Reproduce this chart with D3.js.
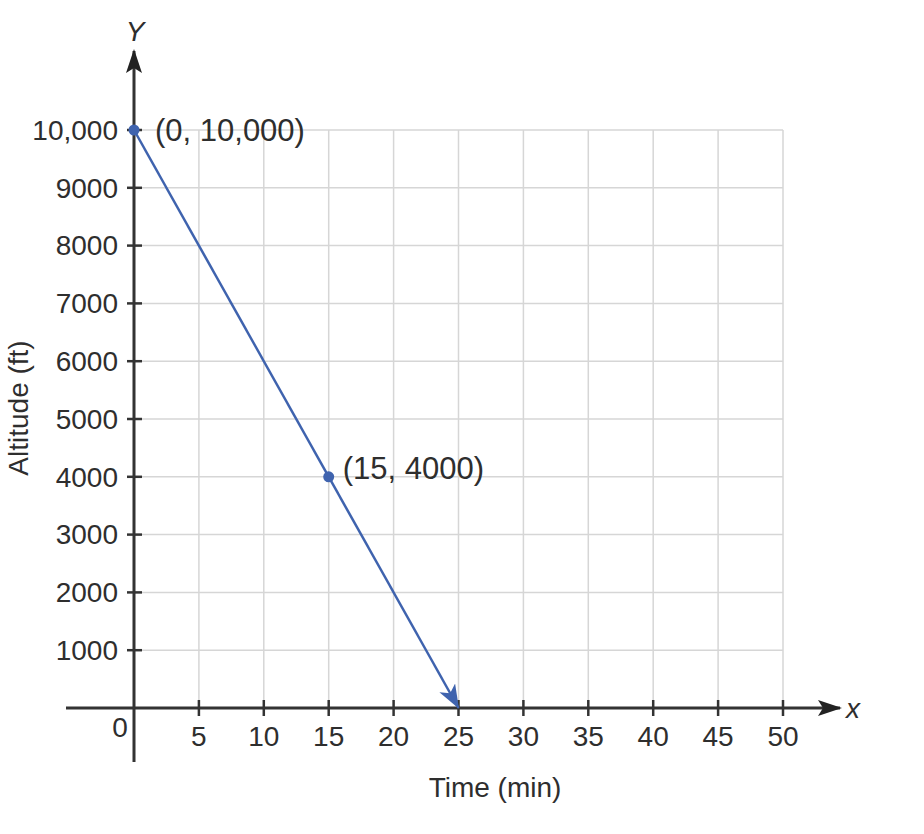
<!DOCTYPE html>
<html>
<head>
<meta charset="utf-8">
<script src="https://cdn.jsdelivr.net/npm/d3@7"></script>
<style>
  html, body { margin: 0; padding: 0; background: #fff; }
  svg text { font-family: "Liberation Sans", Arial, Helvetica, sans-serif; fill: #2e2e2e; }
</style>
</head>
<body>
<svg id="chart" width="924" height="834"></svg>
<script>
// Data
const xTicks = [5, 10, 15, 20, 25, 30, 35, 40, 45, 50];
const yTicks = [1000, 2000, 3000, 4000, 5000, 6000, 7000, 8000, 9000, 10000];
const yTickLabels = ["1000", "2000", "3000", "4000", "5000", "6000", "7000", "8000", "9000", "10,000"];
const lineX = [0, 25];
const lineY = [10000, 0];
const pointX = [0, 15];
const pointY = [10000, 4000];
const pointLabels = ["(0, 10,000)", "(15, 4000)"];

const svg = d3.select("#chart");
const x = d3.scaleLinear().domain([0, 50]).range([134, 783]);
const y = d3.scaleLinear().domain([0, 10000]).range([708, 130]);

const defs = svg.append("defs");
defs.append("marker").attr("id", "axisArrow")
  .attr("viewBox", "0 0 24 16").attr("refX", 22).attr("refY", 8)
  .attr("markerWidth", 24).attr("markerHeight", 16).attr("markerUnits", "userSpaceOnUse")
  .attr("orient", "auto")
  .append("path").attr("d", "M0,0 L24,8 L0,16 L5,8 Z").attr("fill", "#222");
defs.append("marker").attr("id", "lineArrow")
  .attr("viewBox", "0 0 24 18").attr("refX", 23).attr("refY", 9)
  .attr("markerWidth", 24).attr("markerHeight", 18).attr("markerUnits", "userSpaceOnUse")
  .attr("orient", "auto")
  .append("path").attr("d", "M0,0 L24,9 L0,18 L6,9 Z").attr("fill", "#3F63AE");

// Grid
const grid = svg.append("g");
grid.selectAll("line.v").data(xTicks).join("line")
  .attr("x1", d => x(d)).attr("x2", d => x(d))
  .attr("y1", y(0)).attr("y2", y(10000))
  .attr("stroke", "#d6d6d6").attr("stroke-width", 1.5);
grid.selectAll("line.h").data(yTicks).join("line")
  .attr("y1", d => y(d)).attr("y2", d => y(d))
  .attr("x1", x(0)).attr("x2", x(50))
  .attr("stroke", "#d6d6d6").attr("stroke-width", 1.5);

// Axes lines
svg.append("line").attr("x1", 66).attr("x2", 840).attr("y1", y(0)).attr("y2", y(0))
  .attr("stroke", "#333").attr("stroke-width", 3).attr("marker-end", "url(#axisArrow)");
svg.append("line").attr("x1", x(0)).attr("x2", x(0)).attr("y1", 762).attr("y2", 51)
  .attr("stroke", "#333").attr("stroke-width", 3).attr("marker-end", "url(#axisArrow)");

// Ticks
svg.append("g").selectAll("line").data(xTicks).join("line")
  .attr("x1", d => x(d)).attr("x2", d => x(d))
  .attr("y1", y(0) - 8).attr("y2", y(0) + 8)
  .attr("stroke", "#333").attr("stroke-width", 2.5);
svg.append("g").selectAll("line").data(yTicks).join("line")
  .attr("y1", d => y(d)).attr("y2", d => y(d))
  .attr("x1", x(0) - 7).attr("x2", x(0) + 8)
  .attr("stroke", "#333").attr("stroke-width", 2.5);

// Tick labels
svg.append("g").selectAll("text").data(xTicks).join("text")
  .attr("x", d => x(d)).attr("y", 746)
  .attr("text-anchor", "middle").attr("font-size", 28)
  .text(d => d);
svg.append("g").selectAll("text").data(yTicks).join("text")
  .attr("x", 118).attr("y", d => y(d)).attr("dy", "0.35em")
  .attr("text-anchor", "end").attr("font-size", 28)
  .text((d, i) => yTickLabels[i]);
svg.append("text").attr("x", 120).attr("y", 737).attr("text-anchor", "middle")
  .attr("font-size", 28).text("0");

// Axis names
svg.append("text").attr("x", 135).attr("y", 41).attr("text-anchor", "middle")
  .attr("font-size", 28).attr("font-style", "italic").text("Y");
svg.append("text").attr("x", 853).attr("y", 708).attr("dy", "0.35em").attr("text-anchor", "middle")
  .attr("font-size", 28).attr("font-style", "italic").text("x");
svg.append("text").attr("x", 495).attr("y", 797).attr("text-anchor", "middle")
  .attr("font-size", 28).text("Time (min)");
svg.append("text").attr("transform", "translate(28,408) rotate(-90)")
  .attr("text-anchor", "middle").attr("font-size", 28).text("Altitude (ft)");

// Line
svg.append("line")
  .attr("x1", x(lineX[0])).attr("y1", y(lineY[0]))
  .attr("x2", x(lineX[1])).attr("y2", y(lineY[1]))
  .attr("stroke", "#3F63AE").attr("stroke-width", 2.5).attr("marker-end", "url(#lineArrow)");

// Points
svg.append("g").selectAll("circle").data(pointX).join("circle")
  .attr("cx", d => x(d)).attr("cy", (d, i) => y(pointY[i])).attr("r", 5.5)
  .attr("fill", "#3F63AE");
svg.append("g").selectAll("text").data(pointX).join("text")
  .attr("x", (d, i) => x(d) + (i === 0 ? 21 : 14))
  .attr("y", (d, i) => y(pointY[i]) + (i === 0 ? 0 : -9)).attr("dy", "0.35em")
  .attr("font-size", 31).text((d, i) => pointLabels[i]);
</script>
</body>
</html>
